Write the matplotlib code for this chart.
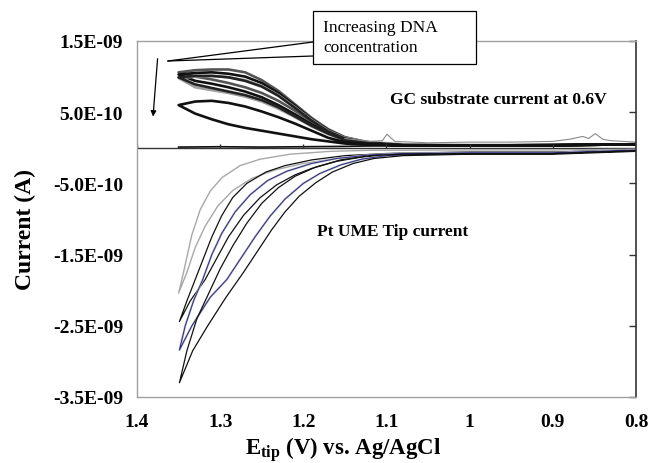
import matplotlib
matplotlib.use('Agg')
import matplotlib.pyplot as plt
from matplotlib.patches import Rectangle
from matplotlib.lines import Line2D
from matplotlib.ticker import FuncFormatter

plt.rcParams['font.family'] = ['Liberation Serif', 'DejaVu Serif']
plt.rcParams['mathtext.fontset'] = 'custom'
plt.rcParams['mathtext.rm'] = 'Liberation Serif:bold'
plt.rcParams['mathtext.it'] = 'Liberation Serif:bold'
plt.rcParams['mathtext.bf'] = 'Liberation Serif:bold'

SCALE = 1e-10  # currents below are in units of 1e-10 A

# GC substrate current, forward / reverse branches on a common potential grid
E_sub = [1.35, 1.33, 1.31, 1.29, 1.27, 1.25, 1.23, 1.21, 1.19, 1.17, 1.15, 1.12, 1.08, 1.0, 0.9, 0.8]
sub1_up = [10.6, 10.9, 11.0, 11.0, 10.6, 9.5, 8.0, 6.1, 4.2, 2.6, 1.5, 0.7, 0.4, 0.3, 0.4, 0.5]
sub1_dn = [10.3, 10.0, 9.6, 9.1, 8.5, 7.7, 6.6, 5.2, 3.7, 2.4, 1.4, 0.7, 0.4, 0.3, 0.35, 0.5]
sub2_up = [10.3, 10.5, 10.6, 10.4, 10.0, 9.1, 7.7, 5.9, 4.0, 2.5, 1.4, 0.7, 0.4, 0.3, 0.4, 0.5]
sub2_dn = [10.0, 9.4, 9.0, 8.5, 7.9, 7.1, 6.0, 4.7, 3.3, 2.1, 1.2, 0.6, 0.35, 0.3, 0.35, 0.5]
sub3_up = [9.8, 10.0, 10.1, 9.9, 9.5, 8.7, 7.4, 5.7, 3.9, 2.4, 1.4, 0.8, 0.5, 0.4, 0.4, 0.5]
sub3_dn = [9.0, 8.5, 8.1, 7.7, 7.2, 6.5, 5.5, 4.3, 3.0, 1.9, 1.1, 0.7, 0.4, 0.3, 0.35, 0.5]
sub4_up = [9.9, 10.1, 10.1, 9.9, 9.4, 8.6, 7.3, 5.6, 3.8, 2.3, 1.3, 0.7, 0.4, 0.3, 0.4, 0.5]
sub4_dn = [9.5, 8.9, 8.4, 7.9, 7.4, 6.7, 5.7, 4.4, 3.1, 2.0, 1.1, 0.6, 0.35, 0.3, 0.35, 0.5]
sub5_up = [6.0, 6.5, 6.6, 6.3, 5.8, 5.1, 4.3, 3.4, 2.4, 1.4, 0.8, 0.5, 0.35, 0.3, 0.35, 0.5]
sub5_dn = [5.6, 4.8, 4.0, 3.3, 2.8, 2.4, 2.0, 1.6, 1.2, 0.9, 0.6, 0.4, 0.3, 0.3, 0.35, 0.5]

# blank (no DNA) substrate trace
E_blank = [1.35, 1.3, 1.25, 1.2, 1.15, 1.1, 1.0, 0.9, 0.8]
I_blank = [0.1, 0.15, 0.1, 0.15, 0.2, 0.3, 0.3, 0.35, 0.5]

# thin grey substrate trace with the two spikes
E_spike = [1.15, 1.12, 1.105, 1.0995, 1.09, 1.05, 1.0, 0.95, 0.9, 0.88, 0.864, 0.857, 0.849, 0.84, 0.83, 0.8]
I_spike = [1.3, 0.9, 1.0, 1.9, 0.9, 0.7, 0.8, 0.8, 0.9, 1.2, 1.6, 1.3, 2.0, 1.2, 1.0, 0.8]

# Pt UME tip current loops (outer / inner branch leaving the 1.35 V vertex)
tip1_out_E = [1.350, 1.346, 1.342, 1.334, 1.324, 1.312, 1.298, 1.276, 1.252, 1.216, 1.168, 1.12, 1.0, 0.9, 0.8]
tip1_out_I = [-20.4, -18.5, -16.4, -12.2, -8.7, -6.1, -4.2, -2.5, -1.6, -0.9, -0.5, -0.35, -0.3, -0.3, -0.2]
tip1_in_E = [1.350, 1.340, 1.330, 1.318, 1.303, 1.285, 1.262, 1.234, 1.20, 1.16, 1.12, 1.08, 1.0, 0.9, 0.8]
tip1_in_I = [-20.4, -17.5, -14.0, -11.0, -8.2, -6.0, -4.3, -3.1, -2.2, -1.5, -1.0, -0.7, -0.6, -0.6, -0.3]

tip2_out_E = [1.349, 1.340, 1.330, 1.320, 1.310, 1.298, 1.285, 1.268, 1.245, 1.222, 1.19, 1.15, 1.10, 1.0, 0.9, 0.8]
tip2_out_I = [-24.4, -21.5, -18.5, -15.5, -12.5, -9.5, -7.0, -5.0, -3.4, -2.5, -1.7, -1.1, -0.8, -0.6, -0.6, -0.3]
tip2_in_E = [1.349, 1.336, 1.318, 1.304, 1.290, 1.272, 1.252, 1.232, 1.21, 1.19, 1.16, 1.13, 1.09, 1.0, 0.9, 0.8]
tip2_in_I = [-24.4, -21.5, -18.5, -15.5, -12.5, -9.5, -7.0, -5.2, -3.8, -2.9, -1.9, -1.3, -0.9, -0.7, -0.7, -0.3]

tip3_out_E = [1.349, 1.342, 1.332, 1.321, 1.310, 1.298, 1.282, 1.264, 1.243, 1.22, 1.19, 1.16, 1.12, 1.08, 1.0, 0.9, 0.8]
tip3_out_I = [-28.4, -25.0, -21.5, -18.5, -15.0, -12.0, -9.0, -6.6, -4.6, -3.3, -2.2, -1.5, -1.0, -0.8, -0.7, -0.7, -0.3]
tip3_in_E = [1.349, 1.334, 1.312, 1.292, 1.275, 1.258, 1.240, 1.222, 1.200, 1.18, 1.155, 1.13, 1.10, 1.06, 1.0, 0.9, 0.8]
tip3_in_I = [-28.4, -25.0, -21.0, -18.5, -15.5, -12.5, -9.6, -7.2, -5.0, -3.6, -2.4, -1.6, -1.1, -0.9, -0.8, -0.8, -0.4]

tip4_out_E = [1.349, 1.340, 1.328, 1.314, 1.300, 1.285, 1.268, 1.250, 1.230, 1.210, 1.185, 1.155, 1.12, 1.08, 1.0, 0.9, 0.8]
tip4_out_I = [-33.0, -28.5, -24.0, -20.5, -17.0, -13.8, -10.6, -7.8, -5.6, -4.0, -2.7, -1.7, -1.1, -0.9, -0.8, -0.8, -0.4]
tip4_in_E = [1.349, 1.333, 1.315, 1.293, 1.272, 1.255, 1.238, 1.222, 1.205, 1.185, 1.165, 1.14, 1.115, 1.08, 1.0, 0.9, 0.8]
tip4_in_I = [-33.0, -28.5, -25.0, -21.0, -17.5, -14.5, -11.5, -9.0, -6.8, -4.9, -3.4, -2.2, -1.5, -1.1, -0.9, -0.9, -0.5]

x_ticks = [1.4, 1.3, 1.2, 1.1, 1.0, 0.9, 0.8]
y_ticks = [-3.5e-9, -2.5e-9, -1.5e-9, -5e-10, 5e-10, 1.5e-9]


def loop(E_a, I_a, E_b, I_b):
    # join two branches through the vertex into one closed trace
    E = list(E_a[::-1]) + list(E_b[1:])
    I = [v * SCALE for v in list(I_a[::-1]) + list(I_b[1:])]
    return E, I


fig = plt.figure(figsize=(6.53, 4.64), dpi=100)
ax = fig.add_axes([137 / 653, 1 - 398 / 464, 499 / 653, 356 / 464])

# substrate loops
sub = [(sub1_up, sub1_dn, '#555555'), (sub2_up, sub2_dn, '#111111'),
       (sub3_up, sub3_dn, '#a0a0a0'), (sub4_up, sub4_dn, '#222222'),
       (sub5_up, sub5_dn, '#111111')]
for up, dn, c in sub:
    E, I = loop(E_sub, up, E_sub, dn)
    ax.plot(E, I, color=c, lw=1.9, solid_joinstyle='round')
ax.plot(E_spike, [v * SCALE for v in I_spike], color='#8a8a8a', lw=0.8)
ax.plot(E_blank, [v * SCALE for v in I_blank], color='#111111', lw=1.2)

# tip loops
E, I = loop(tip1_out_E, tip1_out_I, tip1_in_E, tip1_in_I)
ax.plot(E, I, color='#a8a8a8', lw=1.0)
E, I = loop(tip2_out_E, tip2_out_I, tip2_in_E, tip2_in_I)
ax.plot(E, I, color='#111111', lw=0.9)
E, I = loop(tip3_out_E, tip3_out_I, tip3_in_E, tip3_in_I)
ax.plot(E, I, color='#bdbdbd', lw=1.5)
ax.plot(E, I, color='#2b2b8a', lw=0.7)
E, I = loop(tip4_out_E, tip4_out_I, tip4_in_E, tip4_in_I)
ax.plot(E, I, color='#111111', lw=0.9)

ax.set_xlim(1.4, 0.8)
ax.set_ylim(-3.5e-9, 1.5e-9)

# zero line with small upward tick marks (Excel category axis)
ax.axhline(0, color='#333333', lw=1.0, zorder=1)
ax.vlines(x_ticks, 0, 0.6e-10, color='#333333', lw=1.0)

for s in ['left', 'top', 'bottom']:
    ax.spines[s].set_color('#a0a0a0')
    ax.spines[s].set_linewidth(1.0)
ax.spines['right'].set_color('#333333')
ax.spines['right'].set_linewidth(1.2)

ax.set_xticks(x_ticks)
ax.set_yticks(y_ticks)
ax.xaxis.set_major_formatter(FuncFormatter(lambda v, p: f"{v:g}"))
ax.yaxis.set_major_formatter(FuncFormatter(lambda v, p: f"{v:.1E}"))
ax.tick_params(axis='x', bottom=False, top=False, labelsize=14, pad=8)
ax.tick_params(axis='y', left=False, right=True, labelleft=True, labelright=False,
               direction='in', length=5, width=1.0, color='#333333', labelsize=14, pad=10)
for lab in ax.get_xticklabels() + ax.get_yticklabels():
    lab.set_fontweight('bold')

fig.text(25 / 653, 1 - 229 / 464, 'Current (A)', rotation=90, fontsize=17,
         fontweight='bold', ha='center', va='center')
fig.text(343 / 653, 1 - 450 / 464, r'E$_{\mathrm{tip}}$ (V) vs. Ag/AgCl', fontsize=16.5,
         fontweight='bold', ha='center', va='center')

# annotations inside the plot
fig.text(607 / 653, 1 - 104 / 464, 'GC substrate current at 0.6V', fontsize=12.5,
         fontweight='bold', ha='right', va='baseline')
fig.text(468 / 653, 1 - 236 / 464, 'Pt UME Tip current', fontsize=12.5,
         fontweight='bold', ha='right', va='baseline')

# callout box with wedge pointing at the substrate loops
W, H = 653.0, 464.0
fig.add_artist(Line2D([168 / W, 313 / W], [1 - 62 / H, 1 - 43 / H], color='black', lw=0.9))
fig.add_artist(Line2D([168 / W, 313 / W], [1 - 62 / H, 1 - 57 / H], color='black', lw=0.9))
fig.add_artist(Rectangle((313 / W, 1 - 65 / H), 163 / W, 53 / H, transform=fig.transFigure,
                         facecolor='white', edgecolor='black', lw=0.9))
fig.text(323 / W, 1 - 32 / H, 'Increasing DNA', fontsize=12.5, va='baseline')
fig.text(323 / W, 1 - 52 / H, 'concentration', fontsize=12.5, va='baseline')

# downward arrow for increasing DNA
ax.annotate('', xy=(1.381, 4.0e-10), xytext=(1.375, 1.29e-9),
            arrowprops=dict(arrowstyle='-|>', color='black', lw=0.9, mutation_scale=8))

fig.savefig('out.png', dpi=100)
